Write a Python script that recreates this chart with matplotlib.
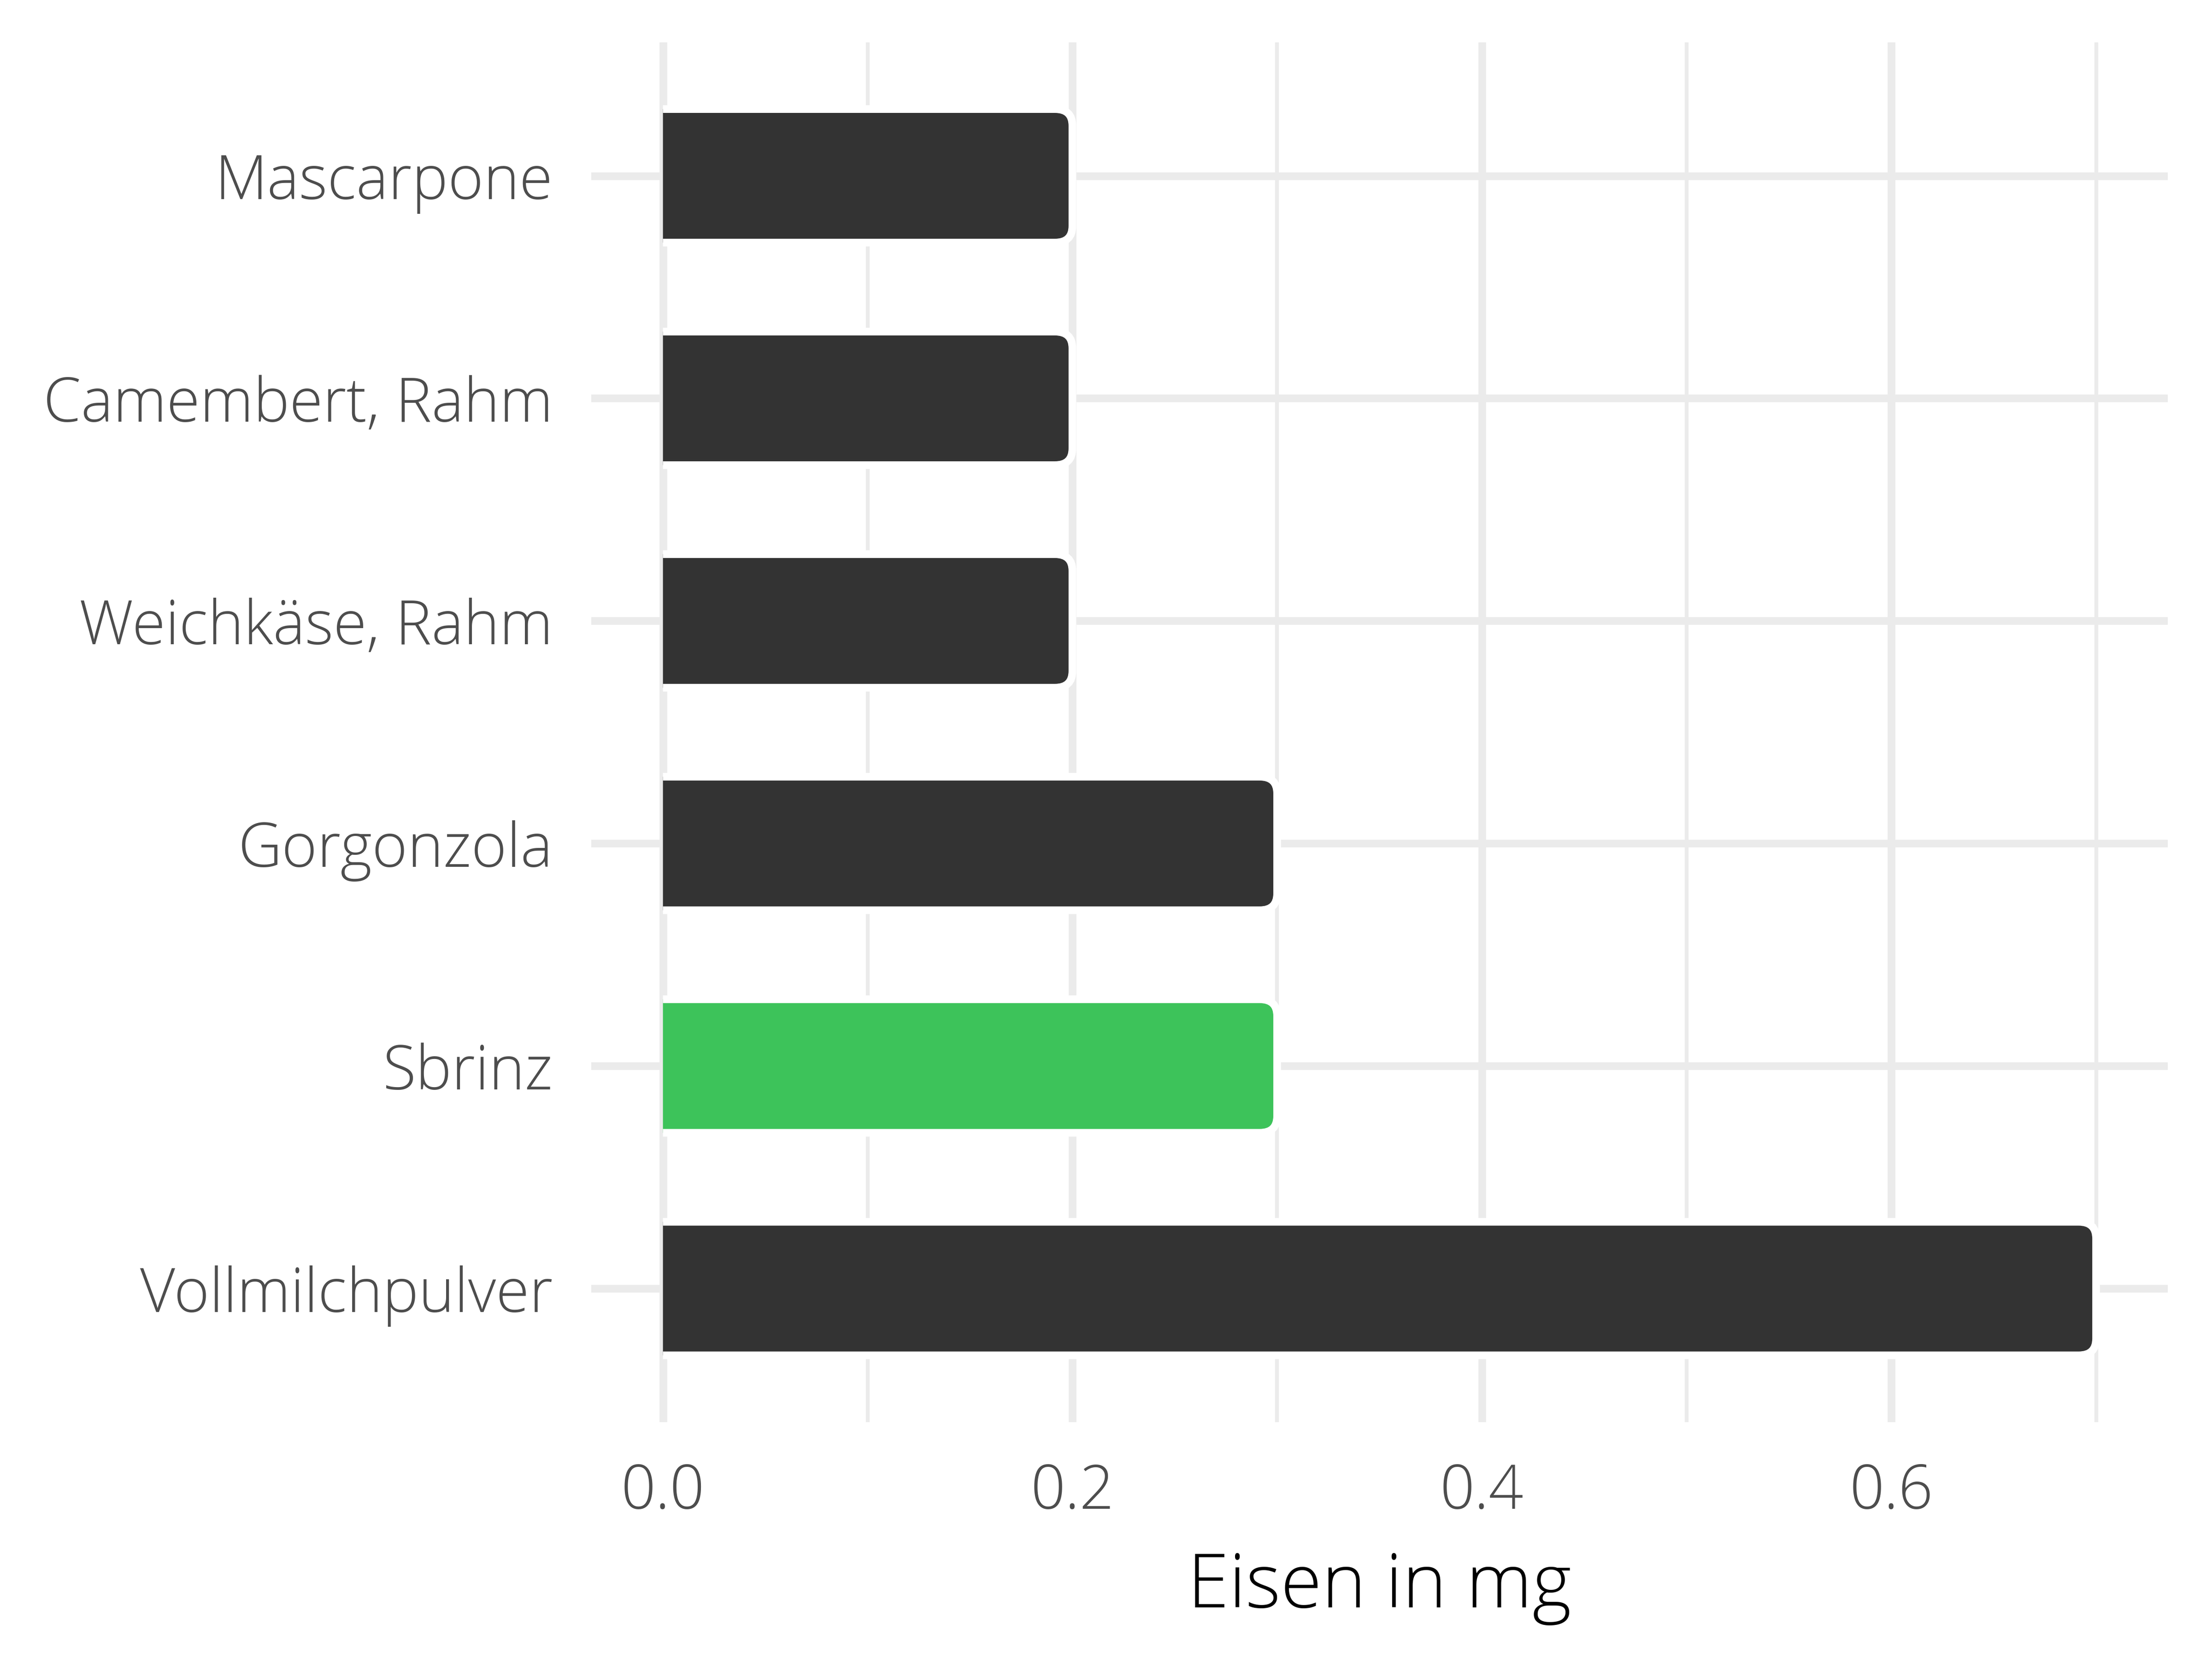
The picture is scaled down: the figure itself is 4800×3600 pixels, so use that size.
"""
Eisen in mg — horizontal bar chart, rounded bar ends, ggplot-minimal look.
"""

import matplotlib
matplotlib.use("Agg")
import matplotlib.pyplot as plt
from matplotlib.path import Path
from matplotlib.patches import PathPatch
from matplotlib.ticker import MultipleLocator

# ---------------------------------------------------------------------------
# Data (bottom -> top)
# ---------------------------------------------------------------------------
foods = ["Vollmilchpulver", "Sbrinz", "Gorgonzola",
         "Weichkäse, Rahm", "Camembert, Rahm", "Mascarpone"]
iron_mg = [0.7, 0.3, 0.3, 0.2, 0.2, 0.2]
highlight = "Sbrinz"

x_ticks = [0.0, 0.2, 0.4, 0.6]
x_label = "Eisen in mg"

# ---------------------------------------------------------------------------
# Style
# ---------------------------------------------------------------------------
_DARK = "#333333"
_GREEN = "#3dc35a"
_GRID = "#ebebeb"
_TEXT = "#4d4d4d"

plt.rcParams.update({
    "font.family": ["Open Sans", "DejaVu Sans"],
    "font.weight": "light",
})


def _round_right(bar, rx, ry, closed=True):
    """Path for a bar whose right end has rounded corners."""
    x0, y0 = bar.get_x(), bar.get_y()
    x1, y1 = x0 + bar.get_width(), y0 + bar.get_height()
    verts = [(x0, y0), (x1 - rx, y0), (x1, y0), (x1, y0 + ry),
             (x1, y1 - ry), (x1, y1), (x1 - rx, y1), (x0, y1)]
    codes = [Path.MOVETO, Path.LINETO, Path.CURVE3, Path.CURVE3,
             Path.LINETO, Path.CURVE3, Path.CURVE3, Path.LINETO]
    if closed:
        verts.append((x0, y0))
        codes.append(Path.CLOSEPOLY)
    return Path(verts, codes)


fig = plt.figure(figsize=(8, 6), dpi=600)
ax = fig.add_axes([0.2673, 0.1428, 0.980 - 0.2673, 0.9745 - 0.1428])

colors = [_GREEN if f == highlight else _DARK for f in foods]
bars = ax.barh(foods, iron_mg, height=0.6, color=colors)

ax.set_xlim(-0.035, 0.735)
ax.set_ylim(-0.6, len(foods) - 0.4)

# swap plain rectangles for right-rounded shapes (outline open on the left)
for bar, c in zip(bars, colors):
    bar.set_visible(False)
    ax.add_patch(PathPatch(_round_right(bar, 0.0085, 0.075), facecolor=c,
                           linewidth=0, zorder=3))
    ax.add_patch(PathPatch(_round_right(bar, 0.0085, 0.075, closed=False),
                           fill=False, edgecolor="white", linewidth=2.0,
                           capstyle="butt", zorder=4))

# grid
ax.xaxis.set_major_locator(MultipleLocator(0.2))
ax.xaxis.set_minor_locator(MultipleLocator(0.1))
ax.grid(which="major", axis="both", color=_GRID, linewidth=2.0, zorder=0)
ax.grid(which="minor", axis="x", color=_GRID, linewidth=1.0, zorder=0)
ax.set_axisbelow(True)

for s in ax.spines.values():
    s.set_visible(False)

ax.set_xticks(x_ticks)
ax.set_xticklabels([f"{t:.1f}" for t in x_ticks])
ax.tick_params(axis="both", which="both", length=0, labelsize=15.8,
               labelcolor=_TEXT)
ax.tick_params(axis="y", pad=10)
ax.tick_params(axis="x", pad=10.5)

ax.set_xlabel(x_label, fontsize=19.5, color="black", labelpad=7,
              fontweight="light")

fig.savefig("out.png", dpi=600, facecolor="white")
